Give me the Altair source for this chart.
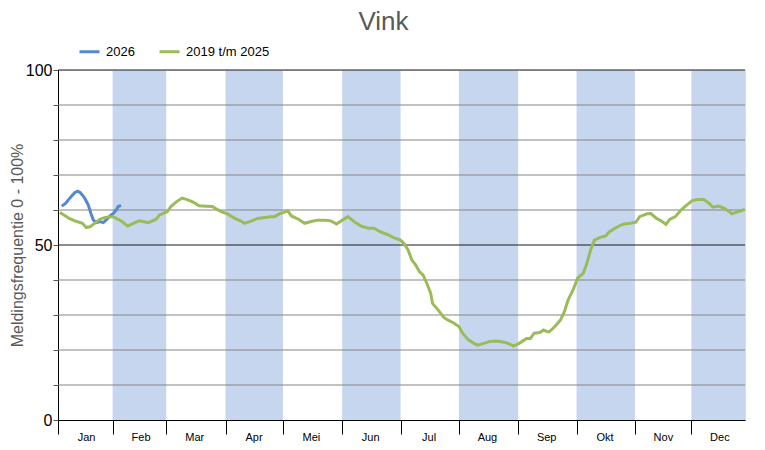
import altair as alt
import pandas as pd

# ---- data ----
months = ["Jan", "Feb", "Mar", "Apr", "Mei", "Jun", "Jul", "Aug", "Sep", "Okt", "Nov", "Dec"]
month_edges = [0, 29, 57.5, 89, 119.5, 151, 182, 213, 244.5, 275.5, 306.5, 336.5, 365]

green_day = [1, 4, 6, 8, 10, 13, 15, 17, 20, 22, 25, 28, 30, 34, 37, 40, 43, 45, 48, 52, 54, 58,
             60, 63, 66, 69, 72, 75, 79, 82, 84, 87, 90, 94, 97, 99, 103, 106, 109, 113, 115, 118,
             120, 122, 124, 128, 131, 135, 138, 142, 145, 148, 151, 154, 158, 161, 165, 168, 171,
             175, 178, 182, 184, 186, 188, 190, 192, 194, 196, 198, 199, 202, 205, 207, 210, 213,
             215, 218, 221, 223, 226, 229, 232, 235, 238, 240, 242, 245, 249, 251, 253, 256, 258,
             260, 261, 264, 267, 269, 271, 274, 276, 279, 281, 283, 285, 288, 291, 293, 296, 299,
             301, 304, 307, 309, 313, 315, 318, 321, 323, 325, 328, 331, 334, 337, 340, 343, 346,
             348, 351, 354, 356, 358, 361, 363, 365]
green_val = [59.3, 58.3, 57.6, 57.1, 56.7, 56.2, 55.0, 55.2, 56.4, 57.3, 57.9, 58.1, 57.9, 56.7,
             55.4, 56.2, 56.9, 56.7, 56.4, 57.3, 58.6, 59.5, 61.0, 62.4, 63.4, 62.9, 62.2, 61.2,
             61.1, 61.0, 60.3, 59.5, 58.9, 57.6, 56.9, 56.2, 56.9, 57.6, 57.8, 58.1, 58.1, 59.0,
             59.3, 59.8, 58.3, 57.3, 56.2, 56.8, 57.1, 57.1, 56.9, 56.0, 57.1, 58.1, 56.4, 55.4,
             54.8, 54.8, 53.8, 53.0, 52.2, 51.4, 50.3, 48.6, 45.7, 44.3, 42.4, 41.4, 39.0, 36.2,
             33.3, 31.4, 29.3, 28.6, 27.8, 26.7, 24.8, 22.9, 21.9, 21.4, 21.9, 22.4, 22.6, 22.4,
             22.1, 21.7, 21.1, 21.9, 23.3, 23.3, 24.8, 25.0, 25.7, 25.2, 25.2, 26.7, 28.6, 30.9,
             34.3, 37.6, 40.5, 41.9, 44.8, 48.6, 51.4, 52.2, 52.6, 53.8, 54.8, 55.7, 56.0, 56.2,
             56.5, 58.1, 58.9, 59.0, 57.6, 56.7, 55.9, 57.3, 58.1, 60.0, 61.4, 62.7, 63.0, 63.0,
             61.9, 60.8, 61.1, 60.5, 59.8, 58.9, 59.5, 59.8, 60.2]

blue_day = [2, 4, 5.5, 7.3, 9, 10.5, 11.7, 12.9, 14.3, 16.1, 17.5, 18.8, 20.6, 22.3, 24.1, 25.9,
            27.6, 29.4, 31.2, 32, 33.5]
blue_val = [61.1, 61.9, 62.9, 64.0, 65.0, 65.4, 65.0, 64.3, 63.3, 61.4, 59.0, 57.1, 56.4, 56.7,
            56.4, 57.3, 58.3, 59.0, 60.2, 61.0, 61.3]

series_names = ["2026", "2019 t/m 2025"]
series_colors = ["#5588D0", "#9BBB59"]
grid_vals = [10, 20, 30, 40, 50, 60, 70, 80, 90, 100]

# ---- tables ----
lines_df = pd.concat([
    pd.DataFrame({"day": blue_day, "value": blue_val, "serie": series_names[0]}),
    pd.DataFrame({"day": green_day, "value": green_val, "serie": series_names[1]}),
])
bands_df = pd.DataFrame({
    "day": [month_edges[i] for i in range(1, 12, 2)],
    "end": [month_edges[i + 1] for i in range(1, 12, 2)],
})
grid_df = pd.DataFrame({"value": grid_vals})

FONT = "Liberation Sans"
xscale = alt.Scale(domain=[0, 365], nice=False, zero=False)
yscale = alt.Scale(domain=[0, 100], nice=False)

names_js = "[" + ",".join(f"'{m}'" for m in months) + "]"
edges_js = "[" + ",".join(str(e) for e in month_edges[:-1]) + "]"

x_axis = alt.Axis(
    values=month_edges[:-1],
    labelExpr=f"{names_js}[indexof({edges_js}, datum.value)]",
    labelOffset=28, labelFlush=False, labelOverlap=False,
    tickSize=14, tickColor="#000000", domainColor="#000000",
    labelPadding=-3, labelFontSize=11, labelColor="#000000", labelFont=FONT,
    grid=False, title=None,
)
y_axis = alt.Axis(
    values=list(range(0, 101, 10)),
    labelExpr="datum.value % 50 == 0 ? datum.label : ''",
    tickSize=5, tickColor="#555555", domainColor="#000000",
    labelFontSize=16, labelColor="#000000", labelFont=FONT, labelPadding=1,
    grid=False,
    title="Meldingsfrequentie 0 - 100%", titleFontSize=16, titleColor="#595959",
    titleFont=FONT, titleFontWeight="normal", titleX=-41, titleY=175,
    titleAngle=-90, titleAlign="center", titleBaseline="middle",
)

bands = alt.Chart(bands_df).mark_rect(color="#C6D6EE").encode(
    x=alt.X("day:Q", scale=xscale, axis=x_axis),
    x2="end:Q",
)

grid_gray = alt.Chart(grid_df).transform_filter("datum.value % 50 != 0").mark_rule(
    strokeWidth=1, color="#858585"
).encode(y=alt.Y("value:Q", scale=yscale, axis=y_axis))

grid_black = alt.Chart(grid_df).transform_filter("datum.value % 50 == 0").mark_rule(
    strokeWidth=1, color="#1a1a1a"
).encode(y=alt.Y("value:Q", scale=yscale, axis=y_axis))

lines = alt.Chart(lines_df).mark_line(strokeWidth=3).encode(
    x=alt.X("day:Q", scale=xscale, axis=x_axis),
    y=alt.Y("value:Q", scale=yscale, axis=y_axis),
    color=alt.Color(
        "serie:N",
        scale=alt.Scale(domain=series_names, range=series_colors),
        legend=alt.Legend(
            title=None, orient="none", legendX=20, legendY=-30, direction="horizontal",
            symbolType="stroke", symbolStrokeWidth=3, symbolSize=400,
            labelFontSize=13, labelFont=FONT, labelColor="#000000",
            columnPadding=18, labelOffset=5, padding=0,
        ),
        sort=series_names,
    ),
)

chart = alt.layer(bands, grid_gray, grid_black, lines).properties(
    width=687, height=350,
    title=alt.TitleParams(
        "Vink", fontSize=26, font=FONT, color="#595959", fontWeight="normal",
        anchor="middle", dx=-18, offset=5,
    ),
    autosize=alt.AutoSizeParams(type="none"),
    padding={"left": 50, "top": 62, "right": 8, "bottom": 24},
).configure_view(stroke=None).configure(background="white")

chart.save("out.html", embed_options={"renderer": "svg", "actions": False})
